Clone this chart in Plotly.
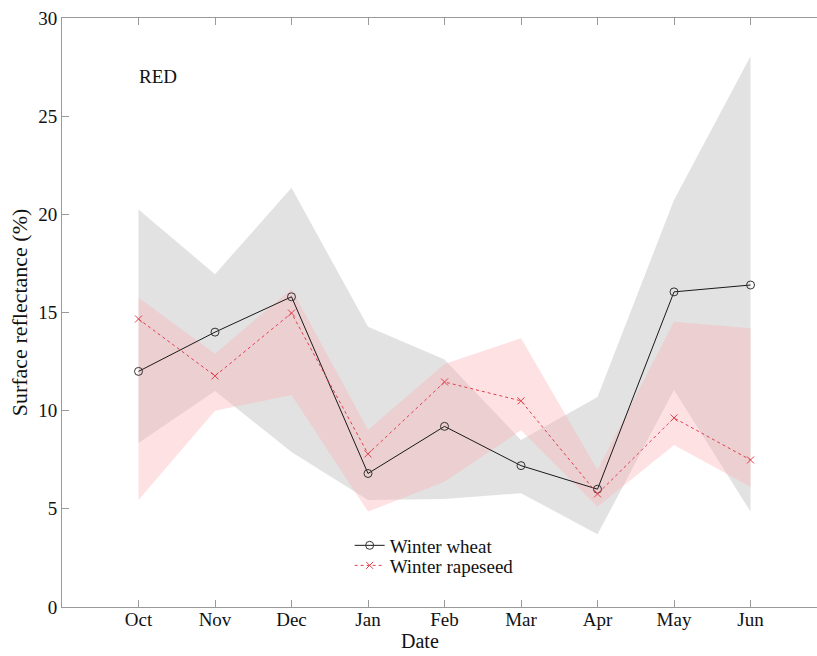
import plotly.graph_objects as go

# Monthly surface reflectance (RED band), mean and spread per crop
months = ["Oct", "Nov", "Dec", "Jan", "Feb", "Mar", "Apr", "May", "Jun"]

wheat_mean = [12.0, 14.0, 15.8, 6.8, 9.2, 7.2, 6.0, 16.05, 16.4]
wheat_upper = [20.25, 16.95, 21.35, 14.27, 12.6, 8.5, 10.7, 20.73, 28.05]
wheat_lower = [8.35, 11.0, 7.9, 5.45, 5.5, 5.8, 3.7, 11.05, 4.86]

rape_mean = [14.67, 11.77, 14.97, 7.8, 11.46, 10.5, 5.76, 9.63, 7.49]
rape_upper = [15.75, 12.9, 16.2, 9.02, 12.38, 13.69, 6.98, 14.53, 14.2]
rape_lower = [5.45, 10.0, 10.8, 4.86, 6.38, 9.0, 5.11, 8.25, 6.13]

y_ticks = [0, 5, 10, 15, 20, 25, 30]

pos = list(range(1, len(months) + 1))
serif = "Liberation Serif, Times New Roman, serif"

fig = go.Figure()


def band(upper, lower, color):
    return go.Scatter(
        x=pos + pos[::-1],
        y=upper + lower[::-1],
        fill="toself",
        fillcolor=color,
        line=dict(width=0),
        mode="lines",
        hoverinfo="skip",
        showlegend=False,
    )


fig.add_trace(band(wheat_upper, wheat_lower, "rgba(200,200,200,0.52)"))
fig.add_trace(band(rape_upper, rape_lower, "rgba(252,175,180,0.38)"))

fig.add_trace(go.Scatter(
    x=pos, y=wheat_mean, name="Winter wheat",
    mode="lines+markers", legend="legend",
    line=dict(color="#1a1a1a", width=1),
    marker=dict(symbol="circle-open", size=8, color="#333333", line=dict(width=1)),
))
fig.add_trace(go.Scatter(
    x=pos, y=rape_mean, name="Winter rapeseed",
    mode="lines+markers", legend="legend2",
    line=dict(color="#e0404e", width=1, dash="dot"),
    marker=dict(symbol="x-thin-open", size=7, color="#e0404e", line=dict(width=1, color="#e0404e")),
))

fig.add_annotation(
    x=1.25, y=27.0, xref="x", yref="y", text="RED", showarrow=False,
    font=dict(family=serif, size=19, color="#111111"),
)

# x-axis title placed as a paper annotation below the tick labels
fig.add_annotation(
    x=(420 - 62) / 755, y=-(641 - 607) / 589, xref="paper", yref="paper",
    text="Date", showarrow=False, xanchor="center", yanchor="middle",
    font=dict(family=serif, size=20, color="#111111"),
)

legend_style = dict(
    x=0.381, xanchor="left", yanchor="top",
    bgcolor="rgba(0,0,0,0)", font=dict(family=serif, size=19, color="#111111"),
    tracegroupgap=0, itemwidth=30,
)

fig.update_layout(
    width=817, height=656,
    margin=dict(l=62, r=0, t=18, b=49),
    paper_bgcolor="white", plot_bgcolor="white",
    font=dict(family=serif, size=19, color="#111111"),
    legend=dict(y=0.1367, **legend_style),
    legend2=dict(y=0.1027, **legend_style),
)
fig.update_xaxes(
    range=[0, 9.869], tickvals=pos, ticktext=months,
    showline=True, linecolor="#9a9a9a", linewidth=1, mirror="ticks",
    ticks="inside", ticklen=7, tickcolor="#9a9a9a",
    ticklabelstandoff=-5,
    showgrid=False, zeroline=False,
)
fig.update_yaxes(
    range=[0, 30], tickvals=y_ticks,
    showline=True, linecolor="#9a9a9a", linewidth=1,
    ticks="inside", ticklen=7, tickcolor="#9a9a9a",
    showgrid=False, zeroline=False,
    title=dict(
        text="Surface reflectance (%)", standoff=4,
        font=dict(family=serif, size=22, color="#111111"),
    ),
)

fig.write_html("out.html")
